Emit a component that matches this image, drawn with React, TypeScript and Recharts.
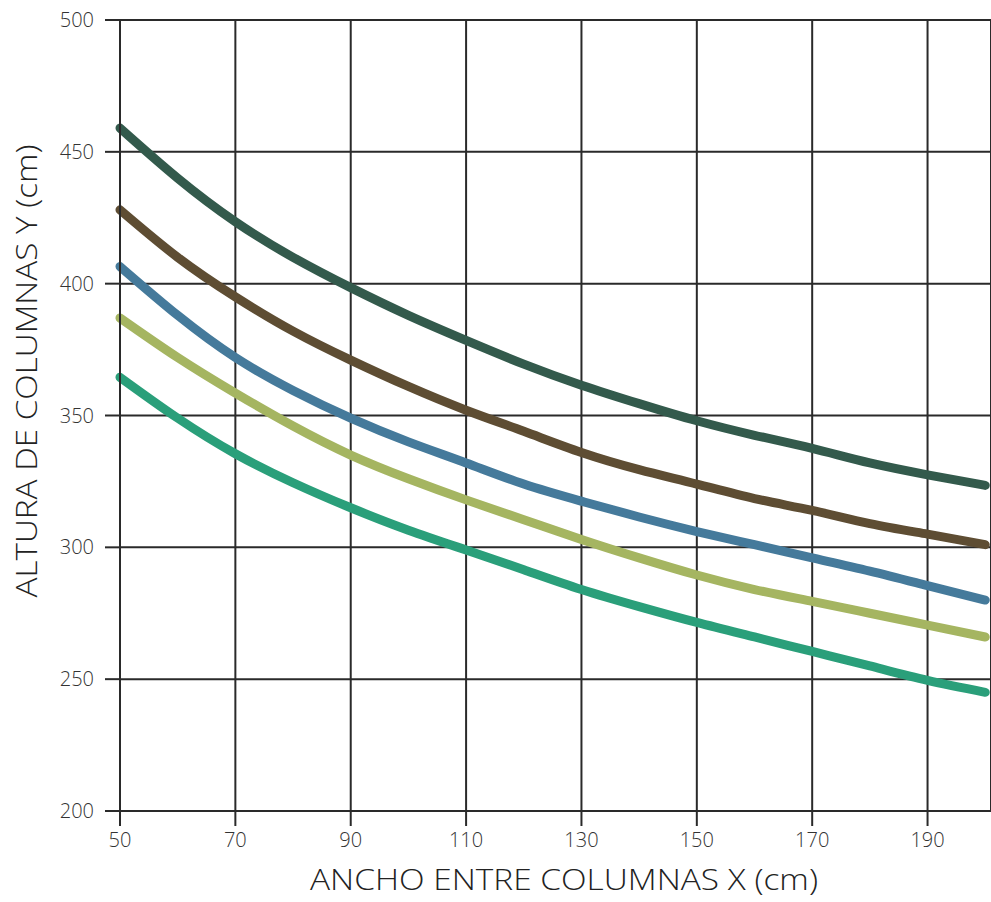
import { LineChart, Line, XAxis, YAxis, CartesianGrid } from "recharts";

// ancho entre columnas (cm)
const anchos = [50, 60, 70, 80, 90, 100, 110, 120, 130, 140, 150, 160, 170, 180, 190, 200];

// altura de columnas (cm), una curva por serie
const serieVerdeOscuro = [459, 440, 423.5, 410, 398.5, 388, 378.5, 369.5, 361.5, 354.5, 348, 342.5, 337.5, 332, 327.5, 323.5];
const serieMarron = [428, 410, 395, 382, 371, 361, 352, 344, 336, 329.5, 324, 318.5, 314, 309, 305, 301];
const serieAzul = [406.5, 388, 372, 359.5, 349, 340, 332, 324, 317.5, 311.5, 306, 301, 296, 291, 285.5, 280];
const serieVerdeClaro = [387, 372, 358.5, 346, 335, 326, 318, 310.5, 303, 296, 289.5, 284, 279.5, 275, 270.5, 266];
const serieTurquesa = [364.5, 349, 335.5, 324.5, 315, 306.5, 299, 291.5, 284, 277.5, 271.5, 266, 260.5, 255, 249.5, 245];

const xTicks = [50, 70, 90, 110, 130, 150, 170, 190];
const yTicks = [200, 250, 300, 350, 400, 450, 500];

const series = [
  { key: "verdeOscuro", color: "#335a4c" },
  { key: "marron", color: "#5e4d33" },
  { key: "azul", color: "#457a9b" },
  { key: "verdeClaro", color: "#a5b561" },
  { key: "turquesa", color: "#2a9f7a" },
];

const data = anchos.map((x, i) => ({
  x,
  verdeOscuro: serieVerdeOscuro[i],
  marron: serieMarron[i],
  azul: serieAzul[i],
  verdeClaro: serieVerdeClaro[i],
  turquesa: serieTurquesa[i],
}));

const INK = "#2a2a2a";
const FONT = "'Open Sans', sans-serif";

export default function App() {
  return (
    <div style={{ position: "absolute", left: 0, top: 0, width: 991, height: 902, overflow: "hidden", background: "#fff" }}>
      <LineChart width={991} height={902} data={data} margin={{ top: 20, right: 0, bottom: 0, left: 0 }}>
        <CartesianGrid stroke={INK} strokeWidth={2} />
        <XAxis
          dataKey="x"
          type="number"
          domain={[50, 201]}
          ticks={xTicks}
          height={91}
          tickSize={15}
          tickMargin={7}
          axisLine={{ stroke: INK, strokeWidth: 2 }}
          tickLine={{ stroke: INK, strokeWidth: 2 }}
          tick={{ fill: "#333", fontSize: 20, fontFamily: FONT, fontWeight: 300 }}
          label={{
            content: () => (
              <text x={564} y={890} textAnchor="middle" fill="#222" fontSize={29} fontFamily={FONT} fontWeight={300} textLength={508} lengthAdjust="spacingAndGlyphs">
                ANCHO ENTRE COLUMNAS X (cm)
              </text>
            ),
          }}
        />
        <YAxis
          type="number"
          domain={[200, 500]}
          ticks={yTicks}
          width={120}
          tickSize={15}
          tickMargin={11}
          axisLine={{ stroke: INK, strokeWidth: 2 }}
          tickLine={{ stroke: INK, strokeWidth: 2 }}
          tick={{ fill: "#333", fontSize: 20, fontFamily: FONT, fontWeight: 300 }}
          label={{
            content: () => (
              <text x={37} y={371} transform="rotate(-90 37 371)" textAnchor="middle" fill="#222" fontSize={29} fontFamily={FONT} fontWeight={300} textLength={453} lengthAdjust="spacingAndGlyphs">
                ALTURA DE COLUMNAS Y (cm)
              </text>
            ),
          }}
        />
        {series.map((s) => (
          <Line
            key={s.key}
            dataKey={s.key}
            type="natural"
            stroke={s.color}
            strokeWidth={9}
            strokeLinecap="round"
            dot={false}
            activeDot={false}
            isAnimationActive={false}
          />
        ))}
      </LineChart>
    </div>
  );
}
